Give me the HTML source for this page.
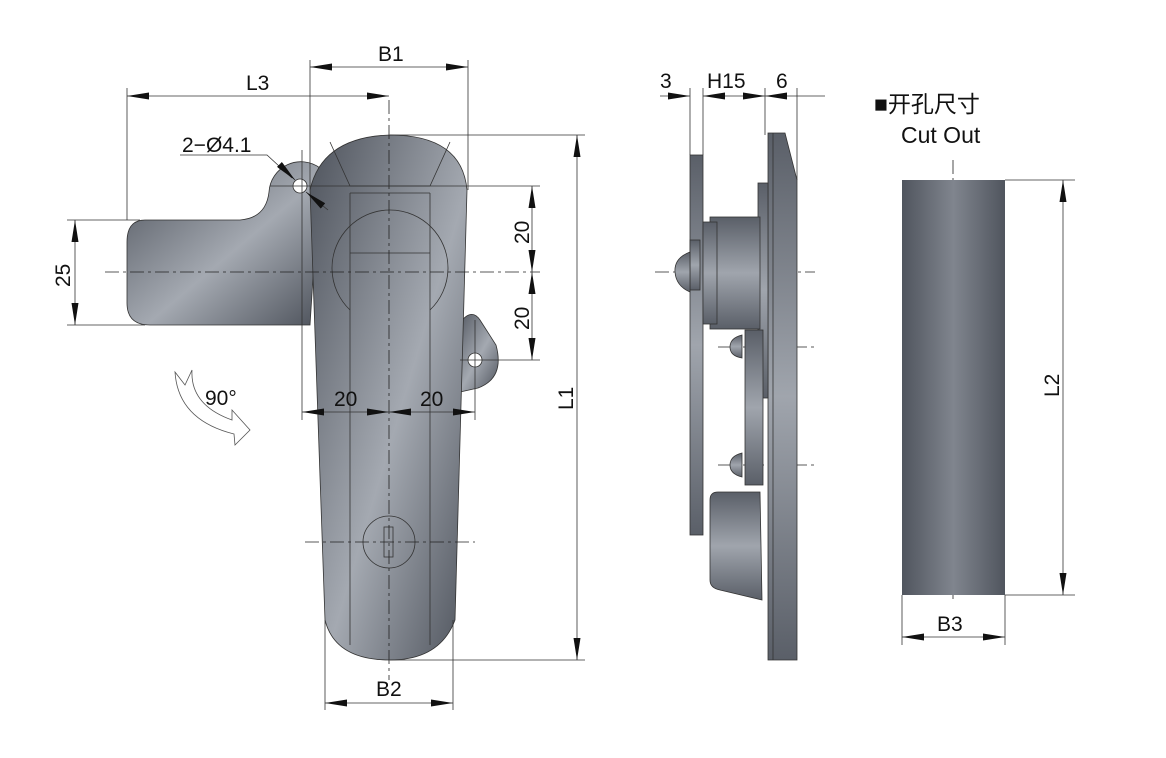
<!DOCTYPE html>
<html><head><meta charset="utf-8"><style>
html,body{margin:0;padding:0;background:#fff;}
svg{display:block;}
text{font-family:"Liberation Sans","Noto Sans CJK SC",sans-serif;fill:#111;}
</style></head><body>
<svg width="1166" height="758" viewBox="0 0 1166 758" xmlns="http://www.w3.org/2000/svg">
<defs>
<linearGradient id="g1" x1="0" y1="0" x2="1" y2="1">
<stop offset="0" stop-color="#4e535c"/><stop offset="0.55" stop-color="#a4a9b1"/><stop offset="1" stop-color="#4e535c"/></linearGradient>
<linearGradient id="g2" x1="0" y1="0" x2="1" y2="0">
<stop offset="0" stop-color="#50555e"/><stop offset="0.5" stop-color="#80858e"/><stop offset="1" stop-color="#50555e"/></linearGradient>
<linearGradient id="g3" x1="0" y1="0" x2="0" y2="1">
<stop offset="0" stop-color="#5a5f68"/><stop offset="0.5" stop-color="#a0a5ad"/><stop offset="1" stop-color="#5a5f68"/></linearGradient>
<marker id="a" viewBox="0 0 10 10" refX="10" refY="5" markerWidth="22" markerHeight="7" preserveAspectRatio="none" orient="auto-start-reverse" markerUnits="userSpaceOnUse"><path d="M0,0 L10,5 L0,10 Z" fill="#111"/></marker>
</defs>

<!-- main view -->
<g stroke="#333" stroke-width="0.8">
<path d="M145,220 L240,220 Q266,218 269,192 A32,32 0 0 1 320,168 L310,325 L150,325 Q127,325 127,303 L127,242 Q127,220 145,220 Z" fill="url(#g1)"/>
<path d="M455,330 Q470,305 480,320 L496,345 Q505,378 478,388 L460,392 Z" fill="url(#g1)"/>
<path d="M310,190 Q322,137 390,135 Q462,135 467,190 L455,620 Q440,660 390,660 Q335,660 325,620 Z" fill="url(#g1)"/>
<g fill="none">
<line x1="350" y1="193" x2="350" y2="645"/><line x1="430" y1="193" x2="430" y2="645"/>
<line x1="330" y1="142" x2="350" y2="186"/><line x1="450" y1="142" x2="430" y2="186"/>
<line x1="350" y1="186" x2="430" y2="186"/><line x1="350" y1="193" x2="430" y2="193"/>
<line x1="350" y1="253" x2="430" y2="253"/>
<path d="M350,310 A58,58 0 1 1 430,310"/>
<circle cx="389" cy="542" r="26"/>
<rect x="384" y="527" width="9" height="30"/>
</g>
<circle cx="300" cy="186" r="7" fill="#fff"/>
<circle cx="475" cy="360" r="7" fill="#fff"/>
</g>

<!-- center lines -->
<g stroke="#222" stroke-width="0.8" stroke-dasharray="14,4,3,4" fill="none">
<line x1="105" y1="272" x2="540" y2="272"/>
<line x1="389" y1="100" x2="389" y2="680"/>
<line x1="305" y1="542" x2="475" y2="542"/>
<line x1="655" y1="272" x2="815" y2="272"/>
<line x1="718" y1="347" x2="815" y2="347"/>
<line x1="718" y1="465" x2="815" y2="465"/>
<line x1="953" y1="160" x2="953" y2="600"/>
</g>

<!-- dimension lines -->
<g stroke="#333" stroke-width="0.8" fill="none">
<line x1="310" y1="60" x2="310" y2="190"/><line x1="468" y1="60" x2="468" y2="190"/>
<line x1="310" y1="67" x2="468" y2="67" marker-start="url(#a)" marker-end="url(#a)"/>
<line x1="127" y1="88" x2="127" y2="220"/>
<line x1="127" y1="96" x2="389" y2="96" marker-start="url(#a)" marker-end="url(#a)"/>
<line x1="67" y1="220" x2="140" y2="220"/><line x1="67" y1="325" x2="145" y2="325"/>
<line x1="75" y1="220" x2="75" y2="325" marker-start="url(#a)" marker-end="url(#a)"/>
<line x1="390" y1="135" x2="585" y2="135"/><line x1="390" y1="660" x2="585" y2="660"/>
<line x1="577" y1="135" x2="577" y2="660" marker-start="url(#a)" marker-end="url(#a)"/>
<line x1="270" y1="186" x2="540" y2="186"/><line x1="460" y1="360" x2="540" y2="360"/>
<line x1="532" y1="186" x2="532" y2="272" marker-start="url(#a)" marker-end="url(#a)"/>
<line x1="532" y1="272" x2="532" y2="360" marker-start="url(#a)" marker-end="url(#a)"/>
<line x1="302" y1="150" x2="302" y2="420"/><line x1="475" y1="320" x2="475" y2="420"/>
<line x1="302" y1="412" x2="389" y2="412" marker-start="url(#a)" marker-end="url(#a)"/>
<line x1="389" y1="412" x2="475" y2="412" marker-start="url(#a)" marker-end="url(#a)"/>
<line x1="325" y1="620" x2="325" y2="710"/><line x1="453" y1="620" x2="453" y2="710"/>
<line x1="325" y1="703" x2="453" y2="703" marker-start="url(#a)" marker-end="url(#a)"/>
<path d="M180,155 L267,155 L292,178"/>
<line x1="283" y1="168" x2="295" y2="180" marker-end="url(#a)"/>
<line x1="328" y1="210" x2="306" y2="192" marker-end="url(#a)"/>
<!-- side view dims -->
<line x1="690" y1="88" x2="690" y2="155"/><line x1="703" y1="88" x2="703" y2="155"/>
<line x1="765" y1="88" x2="765" y2="135"/><line x1="797" y1="88" x2="797" y2="180"/>
<line x1="660" y1="96" x2="690" y2="96" marker-end="url(#a)"/>
<line x1="703" y1="96" x2="765" y2="96" marker-start="url(#a)" marker-end="url(#a)"/>
<line x1="765" y1="96" x2="797" y2="96" marker-start="url(#a)"/>
<line x1="797" y1="96" x2="825" y2="96"/>
<!-- cutout dims -->
<line x1="1005" y1="180" x2="1075" y2="180"/><line x1="1005" y1="595" x2="1075" y2="595"/>
<line x1="1063" y1="180" x2="1063" y2="595" marker-start="url(#a)" marker-end="url(#a)"/>
<line x1="902" y1="595" x2="902" y2="645"/><line x1="1005" y1="595" x2="1005" y2="645"/>
<line x1="902" y1="637" x2="1005" y2="637" marker-start="url(#a)" marker-end="url(#a)"/>
</g>

<!-- rotation arrow -->
<path d="M175,372 L185,385 L192,370 Q190,405 232,420 L232,410 L250,430 L235,445 L234,434 Q178,420 175,372 Z" fill="#fff" stroke="#555" stroke-width="0.8"/>

<!-- side view -->
<g stroke="#333" stroke-width="0.8">
<rect x="690" y="155" width="13" height="380" fill="url(#g3)"/>
<path d="M768,133 L785,133 L797,180 L797,660 L768,660 Z" fill="url(#g3)"/>
<line x1="773" y1="133" x2="773" y2="660"/>
<rect x="758" y="183" width="10" height="215" fill="url(#g3)"/>
<rect x="710" y="217" width="50" height="112" fill="url(#g3)"/>
<rect x="703" y="222" width="14" height="102" fill="url(#g3)"/>
<rect x="690" y="240" width="10" height="50" fill="url(#g3)"/>
<path d="M690,252 Q674,258 675,272 Q676,286 690,292 Z" fill="url(#g3)"/>
<rect x="745" y="330" width="18" height="155" fill="url(#g3)"/>
<path d="M742,335 Q730,338 730,347 Q730,356 742,358 Z" fill="url(#g3)"/>
<path d="M742,453 Q730,456 730,465 Q730,474 742,477 Z" fill="url(#g3)"/>
<path d="M718,492 L760,492 L762,600 L720,590 Q710,588 710,580 L710,500 Q710,492 718,492 Z" fill="url(#g3)"/>
</g>

<!-- cutout -->
<rect x="902" y="180" width="103" height="415" fill="url(#g2)"/>

<!-- texts -->
<g font-size="21">
<text x="378" y="61">B1</text>
<text x="246" y="90">L3</text>
<text x="182" y="152">2−Ø4.1</text>
<text x="205" y="405">90°</text>
<text x="334" y="406">20</text>
<text x="420" y="406">20</text>
<text x="376" y="696">B2</text>
<text x="937" y="631">B3</text>
<text x="660" y="88">3</text>
<text x="707" y="88">H15</text>
<text x="776" y="88">6</text>
<text x="874" y="112" font-size="23">■开孔尺寸</text>
<text x="901" y="143" font-size="23">Cut Out</text>
<text transform="translate(70,287) rotate(-90)">25</text>
<text transform="translate(529,244) rotate(-90)">20</text>
<text transform="translate(529,330) rotate(-90)">20</text>
<text transform="translate(573,410) rotate(-90)">L1</text>
<text transform="translate(1059,397) rotate(-90)">L2</text>
</g>
</svg>
</body></html>
